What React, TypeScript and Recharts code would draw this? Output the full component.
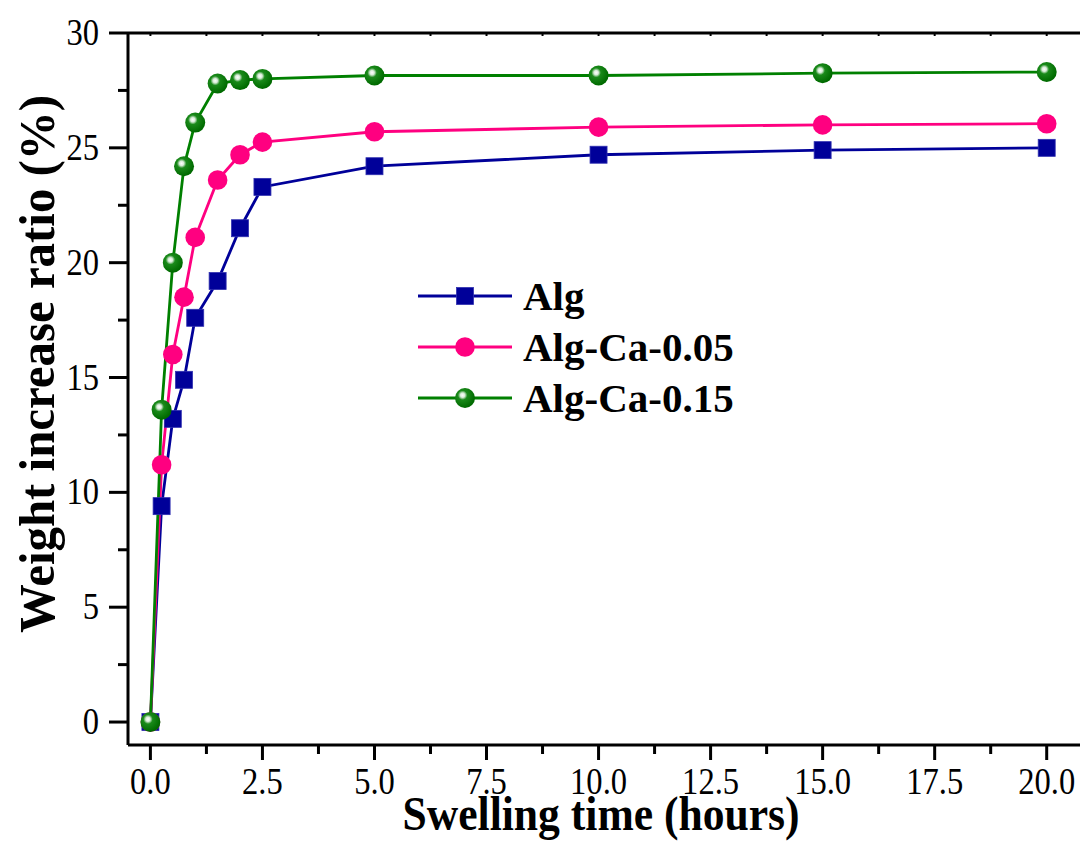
import React from 'react';
import { LineChart, Line, XAxis, YAxis, Legend } from 'recharts';

const times = [0, 0.25, 0.5, 0.75, 1, 1.5, 2, 2.5, 5, 10, 15, 20];
const algValues = [0, 9.4, 13.2, 14.9, 17.6, 19.2, 21.5, 23.3, 24.2, 24.7, 24.9, 25.0];
const ca005Values = [0, 11.2, 16.0, 18.5, 21.1, 23.6, 24.7, 25.25, 25.7, 25.9, 26.0, 26.05];
const ca015Values = [0, 13.6, 20.0, 24.2, 26.1, 27.8, 27.95, 28.0, 28.15, 28.15, 28.25, 28.3];

const seriesNames = ['Alg', 'Alg-Ca-0.05', 'Alg-Ca-0.15'];
const seriesColors = ['#000099', '#FF0080', '#008000'];
const seriesKeys = ['alg', 'ca005', 'ca015'];

const xMajorTicks = [0, 2.5, 5, 7.5, 10, 12.5, 15, 17.5, 20];
const xAllTicks = [0, 1.25, 2.5, 3.75, 5, 6.25, 7.5, 8.75, 10, 11.25, 12.5, 13.75, 15, 16.25, 17.5, 18.75, 20];
const yMajorTicks = [0, 5, 10, 15, 20, 25, 30];
const yAllTicks = [0, 2.5, 5, 7.5, 10, 12.5, 15, 17.5, 20, 22.5, 25, 27.5, 30];

const xTitle = 'Swelling time (hours)';
const yTitle = 'Weight increase ratio (%)';

const data = times.map((t, i) => ({
  t,
  alg: algValues[i],
  ca005: ca005Values[i],
  ca015: ca015Values[i],
}));

const FONT = "'Liberation Serif', 'Times New Roman', serif";

const isMajor = (v: number, majors: number[]) => majors.some((m) => Math.abs(m - v) < 1e-6);

const BottomTick = (props: any) => {
  const { x, y, payload } = props;
  const major = isMajor(payload.value, xMajorTicks);
  return (
    <g>
      <line x1={x} x2={x} y1={y} y2={y + (major ? 15 : 9)} stroke="#000" strokeWidth={3} />
      {major && (
        <text
          transform={`translate(${x},${y + 49}) scale(0.88,1)`}
          textAnchor="middle"
          fontFamily={FONT}
          fontSize={37}
          fill="#000"
        >
          {payload.value.toFixed(1)}
        </text>
      )}
    </g>
  );
};

const TopTick = (props: any) => {
  const { x, y } = props;
  return <line x1={x} x2={x} y1={y} y2={y + 3} stroke="#000" strokeWidth={2} />;
};

const LeftTick = (props: any) => {
  const { x, y, payload } = props;
  const major = isMajor(payload.value, yMajorTicks);
  return (
    <g>
      <line x1={x - (major ? 19 : 10)} x2={x} y1={y} y2={y} stroke="#000" strokeWidth={3} />
      {major && (
        <text
          transform={`translate(${x - 29},${y + 12}) scale(0.88,1)`}
          textAnchor="end"
          fontFamily={FONT}
          fontSize={37}
          fill="#000"
        >
          {payload.value}
        </text>
      )}
    </g>
  );
};

const SquareDot = ({ cx, cy, color, size }: any) => (
  <rect x={cx - size / 2} y={cy - size / 2} width={size} height={size} fill={color} stroke="#3030b0" strokeWidth={0.8} />
);

const CircleDot = ({ cx, cy, color, r }: any) => <circle cx={cx} cy={cy} r={r} fill={color} />;

const SphereDot = ({ cx, cy, r, id }: any) => (
  <g>
    <defs>
      <radialGradient id={id} cx="0.38" cy="0.36" r="0.62" fx="0.38" fy="0.36">
        <stop offset="0" stopColor="#ffffff" />
        <stop offset="0.18" stopColor="#d8ecd8" />
        <stop offset="0.38" stopColor="#1a8a1a" />
        <stop offset="1" stopColor="#006a00" />
      </radialGradient>
    </defs>
    <circle cx={cx} cy={cy} r={r} fill={`url(#${id})`} />
  </g>
);

const renderMarker = (k: number, cx: number, cy: number, id: string) => {
  if (k === 0) return <SquareDot cx={cx} cy={cy} color={seriesColors[0]} size={17} />;
  if (k === 1) return <CircleDot cx={cx} cy={cy} color={seriesColors[1]} r={9.8} />;
  return <SphereDot cx={cx} cy={cy} r={10} id={id} />;
};

const makeDot = (k: number) => (props: any) => {
  const { cx, cy, index } = props;
  return <g key={`dot-${k}-${index}`}>{renderMarker(k, cx, cy, `sphere-${k}-${index}`)}</g>;
};

const LegendContent = () => {
  const rows = [296, 347, 398];
  return (
    <svg width={1080} height={847} style={{ position: 'absolute', left: 0, top: 0, overflow: 'visible' }}>
      {seriesNames.map((name, k) => (
        <g key={name}>
          <line x1={418} x2={512} y1={rows[k]} y2={rows[k]} stroke={seriesColors[k]} strokeWidth={3} />
          {renderMarker(k, 465, rows[k], `legend-sphere-${k}`)}
          <text x={523} y={rows[k] + 14} fontFamily={FONT} fontWeight="bold" fontSize={41} fill="#000">
            {name}
          </text>
        </g>
      ))}
    </svg>
  );
};

const XTitle = () => (
  <text
    x={601}
    y={830}
    textAnchor="middle"
    fontFamily={FONT}
    fontWeight="bold"
    fontSize={48}
    textLength={397}
    lengthAdjust="spacingAndGlyphs"
    fill="#000"
  >
    {xTitle}
  </text>
);

const YTitle = () => (
  <text
    transform="translate(54,364) rotate(-90)"
    x={0}
    y={0}
    textAnchor="middle"
    fontFamily={FONT}
    fontWeight="bold"
    fontSize={50}
    textLength={538}
    lengthAdjust="spacingAndGlyphs"
    fill="#000"
  >
    {yTitle}
  </text>
);

export default function App() {
  return (
    <div style={{ position: 'absolute', left: 0, top: 0, width: 1080, height: 847, overflow: 'hidden', background: '#fff' }}>
      <LineChart
        width={1100}
        height={847}
        data={data}
        margin={{ top: 32, right: 4, bottom: 101, left: 127 }}
      >
        <XAxis
          xAxisId="bottom"
          dataKey="t"
          type="number"
          domain={[-0.5, 21.1]}
          allowDataOverflow
          ticks={xAllTicks}
          interval={0}
          height={1}
          tickSize={0}
          tickMargin={0}
          tickLine={false}
          axisLine={{ stroke: '#000', strokeWidth: 3 }}
          tick={<BottomTick />}
          label={<XTitle />}
        />
        <XAxis
          xAxisId="top"
          orientation="top"
          dataKey="t"
          type="number"
          domain={[-0.5, 21.1]}
          allowDataOverflow
          ticks={xAllTicks}
          interval={0}
          height={1}
          tickSize={0}
          tickMargin={0}
          tickLine={false}
          axisLine={{ stroke: '#000', strokeWidth: 3 }}
          tick={<TopTick />}
        />
        <YAxis
          type="number"
          domain={[-1, 30]}
          allowDataOverflow
          ticks={yAllTicks}
          interval={0}
          width={1}
          tickSize={0}
          tickMargin={0}
          tickLine={false}
          axisLine={{ stroke: '#000', strokeWidth: 3 }}
          tick={<LeftTick />}
          label={<YTitle />}
        />
        <Legend
          layout="vertical"
          align="center"
          verticalAlign="middle"
          content={<LegendContent />}
          wrapperStyle={{ position: 'absolute', left: 0, top: 0, width: 1080, height: 847, pointerEvents: 'none' }}
        />
        {seriesKeys.map((key, k) => (
          <Line
            key={key}
            xAxisId="bottom"
            dataKey={key}
            name={seriesNames[k]}
            stroke={seriesColors[k]}
            strokeWidth={2.8}
            dot={makeDot(k)}
            activeDot={false}
            isAnimationActive={false}
          />
        ))}
      </LineChart>
    </div>
  );
}
